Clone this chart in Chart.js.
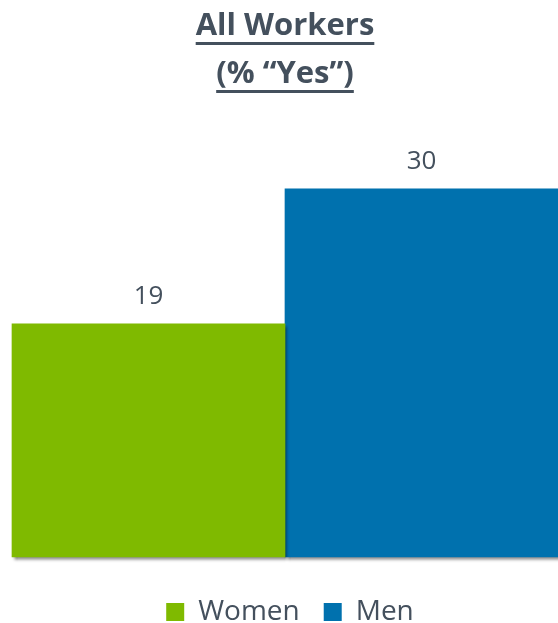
<!DOCTYPE html>
<html>
<head>
<meta charset="utf-8">
<script src="https://cdn.jsdelivr.net/npm/chart.js@4/dist/chart.umd.min.js"></script>
<style>
  html, body { margin: 0; padding: 0; background: #fff; }
  #wrap { width: 558px; height: 623px; position: relative; }
</style>
</head>
<body>
<div id="wrap"><canvas id="chart"></canvas></div>
<script>
'use strict';

// ── Data ─────────────────────────────────────────────────
const groupLabels = ['All Workers'];
const seriesNames = ['Women', 'Men'];
const seriesValues = [19, 30];
const titleLines = ['All Workers', '(% \u201cYes\u201d)'];

// ── Style ────────────────────────────────────────────────
const COLORS    = ['#7fba00', '#0071ae'];
const TEXT      = '#44505d';
const TITLE_FS  = 31;
const TITLE_LH  = 48;
const TITLE_PAD = 2;

Chart.defaults.font.family = "'Open Sans', sans-serif";

// title underline (Chart.js has no underline option)
const underlinePlugin = {
  id: 'underline',
  afterDraw(chart) {
    const ctx = chart.ctx;
    const tb  = chart.titleBlock;
    const cx  = (tb.left + tb.right) / 2;
    ctx.save();
    ctx.font = `bold ${TITLE_FS}px 'Open Sans'`;
    ctx.fillStyle = TEXT;
    titleLines.forEach((line, i) => {
      const mid = tb.top + TITLE_PAD + TITLE_LH / 2 + i * TITLE_LH;
      const w = ctx.measureText(line).width;
      ctx.fillRect(cx - w / 2, mid + 16, w, 3);
    });
    ctx.restore();
  }
};

// soft drop shadow under the bars
const shadowPlugin = {
  id: 'barShadow',
  beforeDatasetsDraw(chart) {
    const ctx = chart.ctx;
    ctx.save();
    ctx.shadowColor   = 'rgba(0,0,0,0.5)';
    ctx.shadowBlur    = 3;
    ctx.shadowOffsetX = 2;
    ctx.shadowOffsetY = 3;
  },
  afterDatasetsDraw(chart) {
    chart.ctx.restore();
  }
};

// nudge the legend row a little to the right
const legendShift = {
  id: 'legendShift',
  afterLayout(chart) {
    chart.legend.left += 10;
  }
};

// value labels above the bars
const valueLabels = {
  id: 'valueLabels',
  afterDraw(chart) {
    const ctx = chart.ctx;
    ctx.save();
    ctx.font = "26px 'Open Sans'";
    ctx.fillStyle = TEXT;
    ctx.textAlign = 'center';
    ctx.textBaseline = 'alphabetic';
    chart.data.datasets.forEach((ds, i) => {
      chart.getDatasetMeta(i).data.forEach((bar, j) => {
        ctx.fillText(String(ds.data[j]), bar.x, bar.y - 20);
      });
    });
    ctx.restore();
  }
};

new Chart(document.getElementById('chart'), {
  type: 'bar',
  data: {
    labels: groupLabels,
    datasets: seriesNames.map((name, i) => ({
      label: name,
      data: [seriesValues[i]],
      backgroundColor: COLORS[i],
      borderWidth: 0,
      barPercentage: 1,
      categoryPercentage: 1,
      clip: false,
    })),
  },
  options: {
    responsive: true,
    maintainAspectRatio: false,
    animation: false,
    layout: { padding: { left: 12, right: 0, top: 0, bottom: 0 } },
    plugins: {
      title: {
        display: true,
        text: titleLines,
        color: TEXT,
        font: { size: TITLE_FS, weight: 'bold', lineHeight: TITLE_LH / TITLE_FS },
        padding: { top: TITLE_PAD, bottom: 6 },
      },
      legend: {
        position: 'bottom',
        maxHeight: 49,
        labels: {
          boxWidth: 18,
          boxHeight: 18,
          padding: 24,
          color: TEXT,
          font: { size: 28 },
        },
      },
      tooltip: { enabled: false },
    },
    scales: {
      x: {
        display: true,
        grid: { display: false },
        border: { display: false },
        ticks: { display: false },
        afterFit: s => { s.height = 17; },
      },
      y: { display: false, min: 0, max: 36.9 },
    },
  },
  plugins: [shadowPlugin, valueLabels, underlinePlugin, legendShift],
});
</script>
</body>
</html>
